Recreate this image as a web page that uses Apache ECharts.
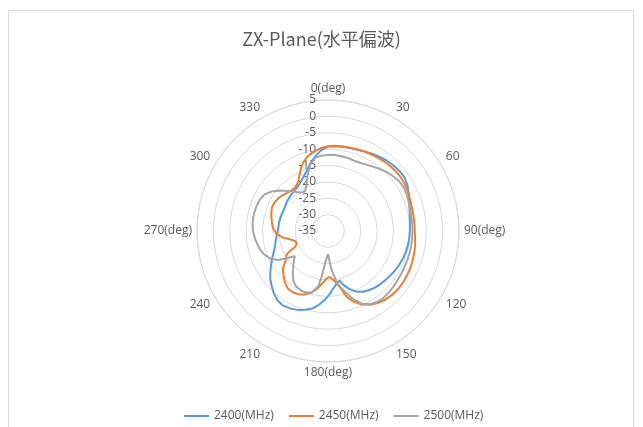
<!DOCTYPE html>
<html>
<head>
<meta charset="utf-8">
<script src="https://cdn.jsdelivr.net/npm/echarts@6/dist/echarts.min.js"></script>
<style>
  html, body { margin: 0; padding: 0; background: #ffffff; }
  #chart { width: 643px; height: 427px; }
</style>
</head>
<body>
<div id="chart"></div>
<script>
// Antenna pattern, ZX plane, horizontal polarisation. Angles in degrees, gain in dB.
const seriesNames = ['2400(MHz)', '2450(MHz)', '2500(MHz)'];

const angles2400 = [0,5,10,15,20,25,30,35,40,45,50,55,60,65,70,75,80,85,90,95,100,105,110,115,120,125,130,135,140,145,150,155,160,164,167,171,175,179,183,187,191,196,201,206,211,216,221,225,230,235,240,245,250,255,260,265,270,275,280,285,290,295,300,305,310,315,320,325,330,335,340,345,350,355];
const values2400 = [-9.2,-9.0,-8.9,-8.8,-8.6,-8.2,-7.8,-7.4,-7.0,-6.7,-6.5,-6.5,-7.0,-7.8,-8.6,-9.2,-9.6,-9.9,-10.0,-10.1,-10.2,-10.4,-10.6,-10.9,-11.2,-11.6,-11.9,-12.2,-12.5,-13.0,-13.6,-14.6,-16.2,-17.9,-19.5,-18.6,-17.3,-15.5,-13.8,-12.3,-11.0,-10.0,-9.2,-8.7,-8.4,-8.8,-9.8,-10.8,-12.0,-13.5,-15.0,-16.3,-17.5,-18.3,-18.8,-19.3,-19.6,-19.8,-19.8,-19.9,-20.0,-20.0,-19.9,-19.6,-19.4,-19.2,-19.0,-18.7,-18.0,-17.0,-15.7,-13.8,-12.0,-10.3];

const angles2450 = [0,5,10,15,20,25,30,35,40,45,50,55,60,65,70,75,80,85,90,95,100,105,110,115,120,125,130,135,140,145,150,155,160,164,168,172,176,179,182,186,190,195,200,205,210,215,220,225,230,235,240,242,244,248,253,258,262,267,272,277,282,287,293,298,303,308,313,318,322,326,330,334,337,340,345,350,355];
const values2450 = [-9.1,-8.9,-8.8,-8.7,-8.5,-8.3,-8.1,-7.9,-7.7,-7.5,-7.4,-7.4,-7.6,-7.9,-8.2,-8.4,-8.5,-8.5,-8.5,-8.3,-8.0,-7.8,-7.6,-7.4,-7.3,-7.2,-7.2,-7.4,-7.7,-8.2,-9.0,-10.2,-12.0,-14.0,-17.5,-19.3,-20.6,-20.9,-20.4,-19.0,-17.3,-15.5,-14.4,-13.7,-13.4,-13.6,-14.5,-15.8,-17.0,-19.2,-20.4,-21.5,-23.8,-24.7,-24.5,-23.0,-21.0,-19.2,-18.3,-17.8,-17.4,-16.9,-16.4,-16.5,-16.8,-17.3,-17.9,-18.3,-18.4,-18.0,-17.0,-15.4,-14.0,-12.8,-11.3,-10.4,-9.6];

const angles2500 = [0,5,10,15,20,25,30,35,40,45,50,55,60,65,70,75,80,85,90,95,100,105,110,115,120,125,130,135,140,145,150,155,160,165,170,175,180,185,188,190,195,200,205,210,215,220,225,230,233,236.5,240,245,250,255,260,265,270,275,280,285,290,295,300,305,310,315,320,325,330,335,340,345,350,355];
const values2500 = [-11.8,-11.7,-11.8,-11.9,-12.1,-12.0,-11.6,-11.0,-10.3,-9.6,-9.0,-8.5,-8.3,-8.5,-8.8,-9.0,-9.2,-9.2,-9.2,-9.2,-9.2,-9.2,-9.2,-9.2,-9.1,-9.0,-8.8,-8.6,-8.5,-8.6,-9.2,-10.5,-13.0,-16.0,-18.8,-23.3,-28.0,-25.3,-20.8,-17.8,-15.6,-15.0,-15.1,-15.5,-16.5,-18.3,-20.0,-21.5,-22.3,-19.8,-17.3,-15.3,-14.2,-13.5,-13.0,-12.5,-12.1,-11.9,-11.8,-11.8,-11.9,-12.1,-12.6,-14.0,-15.8,-17.7,-19.4,-20.7,-21.0,-19.5,-16.8,-14.0,-12.3,-11.9];

const radiusTicks = { min: -35, max: 5, step: 5 };
const angleTicks = { min: 0, max: 360, step: 30 };
const lineColors = ['#5B9BD5', '#ED7D31', '#A5A5A5'];

// Build closed [radius, angle] loops for the polar line series
function loop(angles, values) {
  const pts = angles.map((a, i) => [values[i], a]);
  pts.push([values[0], angles[0] + 360]);
  return pts;
}

const datasets = [
  loop(angles2400, values2400),
  loop(angles2450, values2450),
  loop(angles2500, values2500)
];

const textColor = '#595959';
const gridColor = '#d9d9d9';

const chart = echarts.init(document.getElementById('chart'));
chart.setOption({
  backgroundColor: '#ffffff',
  animation: false,
  title: {
    text: 'ZX-Plane(水平偏波)',
    left: 'center',
    top: 25,
    textStyle: {
      fontSize: 18,
      fontWeight: 'normal',
      color: textColor,
      fontFamily: '"Noto Sans CJK JP", "Noto Sans", sans-serif'
    }
  },
  legend: {
    data: seriesNames,
    top: 405,
    left: 179,
    icon: 'rect',
    itemWidth: 25,
    itemHeight: 2,
    itemGap: 15,
    textStyle: { fontSize: 12, color: textColor, fontFamily: '"Open Sans", "Noto Sans", sans-serif' }
  },
  graphic: [{
    type: 'rect',
    shape: { x: 8.5, y: 10.5, width: 625, height: 430 },
    style: { fill: 'none', stroke: '#d9d9d9', lineWidth: 1 },
    silent: true,
    z: -1
  }],
  polar: {
    center: [328, 231],
    radius: 131
  },
  angleAxis: {
    type: 'value',
    min: angleTicks.min,
    max: angleTicks.max,
    interval: angleTicks.step,
    startAngle: 90,
    clockwise: true,
    axisLine: { show: true, lineStyle: { color: gridColor, width: 1 } },
    axisTick: { show: false },
    splitLine: { show: false },
    axisLabel: {
      color: textColor,
      fontSize: 12,
      margin: 5,
      fontFamily: '"Open Sans", "Noto Sans", sans-serif',
      formatter: function (v) {
        if (v >= 360) return '';
        return v % 90 === 0 ? v + '(deg)' : String(v);
      }
    }
  },
  radiusAxis: {
    type: 'value',
    min: radiusTicks.min,
    max: radiusTicks.max,
    interval: radiusTicks.step,
    axisLine: { show: false },
    axisTick: { show: false },
    splitLine: { show: true, lineStyle: { color: gridColor, width: 1 } },
    axisLabel: {
      color: textColor,
      fontSize: 12,
      margin: 12,
      fontFamily: '"Open Sans", "Noto Sans", sans-serif'
    }
  },
  series: seriesNames.map((name, i) => ({
    name: name,
    type: 'line',
    coordinateSystem: 'polar',
    data: datasets[i],
    showSymbol: false,
    symbol: 'none',
    smooth: false,
    lineStyle: { color: lineColors[i], width: 2 },
    itemStyle: { color: lineColors[i] },
    z: 2 + i
  }))
});
</script>
</body>
</html>
